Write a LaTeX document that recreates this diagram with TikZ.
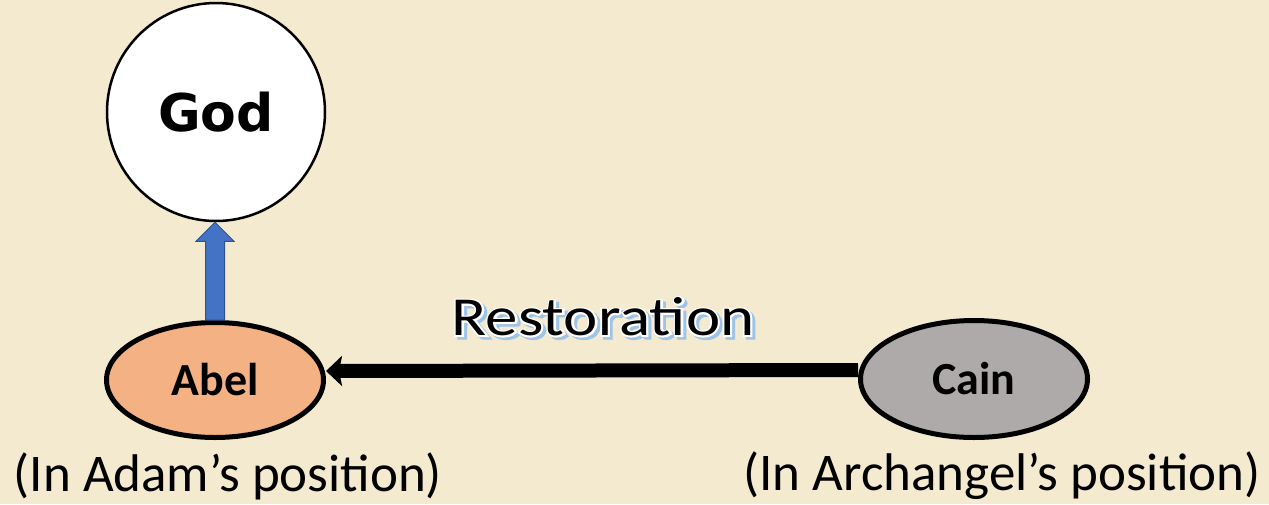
\documentclass[tikz,border=0pt]{standalone}
\usepackage{fontspec}
\setmainfont{Carlito}
\newfontfamily\godfont{DejaVu Sans}
\newfontfamily\glowfont[FakeBold=6]{Carlito}
\usetikzlibrary{arrows.meta,calc,shapes.geometric}
\definecolor{bg}{HTML}{F4EAD0}
\definecolor{abelfill}{HTML}{F4B183}
\definecolor{cainfill}{HTML}{AEAAAA}
\definecolor{upblue}{HTML}{4472C4}
\definecolor{upborder}{HTML}{2F528F}
\definecolor{glowblue}{HTML}{9DC3E6}
\newcommand{\glowcopy}[4]{\makebox[0pt][l]{\hspace*{#1}\raisebox{#2}{\color{#3}\glowfont #4}}}
\newcommand{\glowtxt}[1]{%
\glowcopy{2.5pt}{-2.5pt}{glowblue}{#1}%
\glowcopy{0pt}{0pt}{white}{#1}%
{\color{black}#1}}
\tikzset{
  godnode/.style={circle, draw=black, line width=2.5pt, fill=white, minimum size=218pt, inner sep=0pt, font=\godfont\bfseries\fontsize{52}{60}\selectfont},
  person/.style={ellipse, draw=black, line width=5pt, inner sep=0pt, font=\bfseries\fontsize{46}{52}\selectfont},
  caption/.style={font=\fontsize{53}{60}\selectfont, inner sep=0pt},
  bigarrow/.style={line width=14pt, draw=black, -{Stealth[length=16pt,width=30pt,inset=3pt]}},
  uparrow/.style={fill=upblue, draw=upborder, line width=1pt, line join=miter}
}
\begin{document}
\begin{tikzpicture}[x=1pt,y=-1pt]
\useasboundingbox[fill=bg] (0,0) rectangle (1269,504);
\node[godnode] (god) at (216,112) {God};
\node[person, fill=abelfill, minimum width=217pt, minimum height=115pt] (abel) at (215,380) {Abel};
\node[person, fill=cainfill, minimum width=227pt, minimum height=117pt] (cain) at (974,379) {Cain};
\draw[uparrow] let \p1=(abel.north), \p2=(god.south) in
  (\x1-9.5pt,\y1) -- (\x1-9.5pt,\y2-19pt) -- (\x1-19pt,\y2-19pt) -- (\x1,\y2)
  -- (\x1+19pt,\y2-19pt) -- (\x1+9.5pt,\y2-19pt) -- (\x1+9.5pt,\y1) -- cycle;
\coordinate (cainin) at ([yshift=9pt]cain.west);
\coordinate (abelin) at ([yshift=9pt]abel.east);
\draw[bigarrow] (cainin) -- (abelin);
\node[inner sep=0pt, font=\fontsize{55}{60}\selectfont] (rest) at (603,318) {\scalebox{1.18}[1]{\glowtxt{Restoration}}};
\node[caption] (adam) at (228,476) {(In Adam’s position)};
\node[caption] (arch) at (1002,476) {(In Archangel’s position)};
\end{tikzpicture}
\end{document}
